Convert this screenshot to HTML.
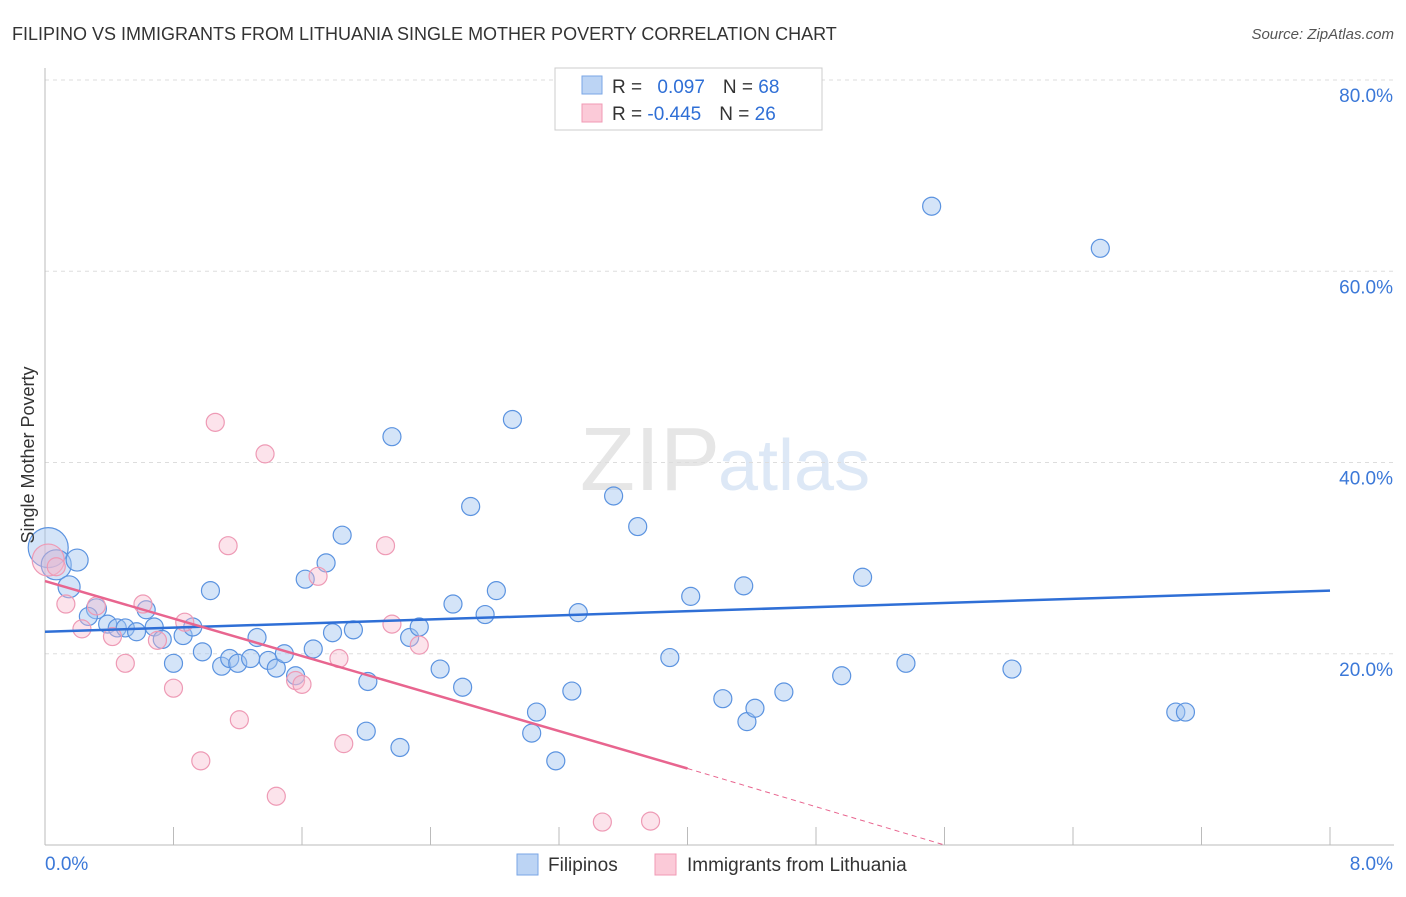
<!DOCTYPE html>
<html><head><meta charset="utf-8"><style>
body{margin:0;background:#fff;font-family:"Liberation Sans",sans-serif;}
svg text{font-family:"Liberation Sans",sans-serif;}
</style></head><body>
<svg width="1406" height="892" xmlns="http://www.w3.org/2000/svg">
<text x="12" y="40" font-size="18" fill="#333">FILIPINO VS IMMIGRANTS FROM LITHUANIA SINGLE MOTHER POVERTY CORRELATION CHART</text>
<text x="1394" y="39" font-size="15" fill="#555" font-style="italic" text-anchor="end">Source: ZipAtlas.com</text>
<text x="720" y="490" font-size="90" fill="#e6e6e6" text-anchor="end" font-family="Liberation Serif">ZIP</text>
<text x="718" y="490" font-size="72" fill="#dde8f6">atlas</text>
<g id="grid"></g>
<g id="axes"></g>
<g id="pts"></g>
<g id="trends"></g>
<text transform="translate(34,455) rotate(-90)" font-size="18" fill="#333" text-anchor="middle">Single Mother Poverty</text>
<g>
<rect x="555" y="68" width="267" height="62" fill="#fff" stroke="#ccc"/>
<rect x="582" y="76" width="20" height="18" fill="#bcd4f4" stroke="#7aa6e6"/>
<rect x="582" y="104" width="20" height="18" fill="#fbcad8" stroke="#f09ab4"/>
<text x="612" y="93" font-size="19" fill="#333">R = <tspan fill="#2f6fd6" dx="10">0.097</tspan><tspan dx="18" fill="#333">N = </tspan><tspan fill="#2f6fd6">68</tspan></text>
<text x="612" y="120" font-size="19" fill="#333">R = <tspan fill="#2f6fd6">-0.445</tspan><tspan dx="18" fill="#333">N = </tspan><tspan fill="#2f6fd6">26</tspan></text>
</g>
<g>
<rect x="517" y="854" width="21" height="21" fill="#bcd4f4" stroke="#7aa6e6"/>
<text x="548" y="871" font-size="19" fill="#333">Filipinos</text>
<rect x="655" y="854" width="21" height="21" fill="#fbcad8" stroke="#f09ab4"/>
<text x="687" y="871" font-size="19" fill="#333">Immigrants from Lithuania</text>
</g>
</svg>
<script>
const blueX=[0.02,0.07,0.20,0.15,0.32,0.27,0.39,0.45,0.50,0.57,0.63,0.68,0.73,0.80,0.86,0.92,0.98,1.03,1.10,1.15,1.20,1.28,1.32,1.39,1.44,1.49,1.56,1.62,1.67,1.75,1.79,1.85,1.92,2.01,2.00,2.16,2.21,2.27,2.33,2.46,2.54,2.60,2.65,2.74,2.81,2.91,3.03,3.06,3.18,3.28,3.32,3.54,3.69,3.89,4.02,4.22,4.35,4.37,4.42,4.60,4.96,5.09,5.36,5.52,6.02,6.57,7.04,7.10];
const blueY=[31.1,29.3,29.8,27.0,24.7,23.9,23.1,22.7,22.7,22.3,24.6,22.8,21.5,19.0,21.9,22.8,20.2,26.6,18.7,19.5,19.0,19.5,21.7,19.3,18.5,20.0,17.7,27.8,20.5,29.5,22.2,32.4,22.5,17.1,11.9,42.7,10.2,21.7,22.8,18.4,25.2,16.5,35.4,24.1,26.6,44.5,11.7,13.9,8.8,16.1,24.3,36.5,33.3,19.6,26.0,15.3,27.1,12.9,14.3,16.0,17.7,28.0,19.0,66.8,18.4,62.4,13.9,13.9];
const blueR=[20,15,11,11,10,9,9,9,9,9,9,9,9,9,9,9,9,9,9,9,9,9,9,9,9,9,9,9,9,9,9,9,9,9,9,9,9,9,9,9,9,9,9,9,9,9,9,9,9,9,9,9,9,9,9,9,9,9,9,9,9,9,9,9,9,9,9,9];
const pinkX=[0.02,0.07,0.13,0.23,0.32,0.42,0.50,0.61,0.70,0.80,0.87,0.97,1.06,1.14,1.21,1.37,1.44,1.56,1.60,1.70,1.83,1.86,2.12,2.16,2.33,3.47,3.77];
const pinkY=[29.8,29.1,25.2,22.6,25.0,21.8,19.0,25.2,21.4,16.4,23.3,8.8,44.2,31.3,13.1,40.9,5.1,17.2,16.8,28.1,19.5,10.6,31.3,23.1,20.9,2.4,2.5];
const pinkR=[16,9,9,9,9,9,9,9,9,9,9,9,9,9,9,9,9,9,9,9,9,9,9,9,9,9,9];
const blueTrendX=[0,8], blueTrendY=[22.3,26.6];
const pinkTrendX=[0,4,5.6], pinkTrendY=[27.6,8.0,0];
const yTicks=[20,40,60,80];
const xTicks=[0,0.8,1.6,2.4,3.2,4.0,4.8,5.6,6.4,7.2,8.0];
const sx=v=>45+v*1285/8, sy=v=>845-v*9.5625;
const NS="http://www.w3.org/2000/svg";
function mk(p,t,a){const e=document.createElementNS(NS,t);for(const k in a)e.setAttribute(k,a[k]);p.appendChild(e);return e;}
const grid=document.getElementById('grid'),axes=document.getElementById('axes'),pts=document.getElementById('pts'),tr=document.getElementById('trends');
yTicks.forEach(v=>{const l=mk(grid,'line',{x1:45,x2:1394,y1:sy(v),y2:sy(v),stroke:'#ddd','stroke-dasharray':'4,4'});


const t=mk(grid,'text',{x:1393,y:sy(v)+22,'font-size':19,fill:'#3b78d8','text-anchor':'end'});t.textContent=v.toFixed(1)+'%';

});
const xa=mk(axes,'line',{x1:45,x2:1394,y1:845,y2:845,stroke:'#bbb'});


const ya=mk(axes,'line',{x1:45,x2:45,y1:68,y2:845,stroke:'#bbb'});


xTicks.forEach(v=>{const l=mk(axes,'line',{x1:sx(v),x2:sx(v),y1:827,y2:845,stroke:'#bbb'});

});
[[0,'0.0%','start',45],[8,'8.0%','end',1393]].forEach(d=>{const t=mk(axes,'text',{x:d[3],y:870,'font-size':19,fill:'#3b78d8','text-anchor':d[2]});t.textContent=d[1];

});
blueX.forEach((x,i)=>{const c=mk(pts,'circle',{cx:sx(x),cy:sy(blueY[i]),r:blueR[i],fill:'rgba(160,195,240,0.45)',stroke:'#5b93e0','stroke-width':1.2});

});
pinkX.forEach((x,i)=>{const c=mk(pts,'circle',{cx:sx(x),cy:sy(pinkY[i]),r:pinkR[i],fill:'rgba(248,185,205,0.4)',stroke:'#ee9ab5','stroke-width':1.2});

});
const bl=mk(tr,'line',{x1:sx(blueTrendX[0]),y1:sy(blueTrendY[0]),x2:sx(blueTrendX[1]),y2:sy(blueTrendY[1]),stroke:'#2f6fd6','stroke-width':2.5});


const pl=mk(tr,'line',{x1:sx(pinkTrendX[0]),y1:sy(pinkTrendY[0]),x2:sx(pinkTrendX[1]),y2:sy(pinkTrendY[1]),stroke:'#e8658f','stroke-width':2.5});


const pd=mk(tr,'line',{x1:sx(pinkTrendX[1]),y1:sy(pinkTrendY[1]),x2:sx(pinkTrendX[2]),y2:sy(pinkTrendY[2]),stroke:'#e8658f','stroke-width':1,'stroke-dasharray':'5,4'});


</script>
</body></html>
